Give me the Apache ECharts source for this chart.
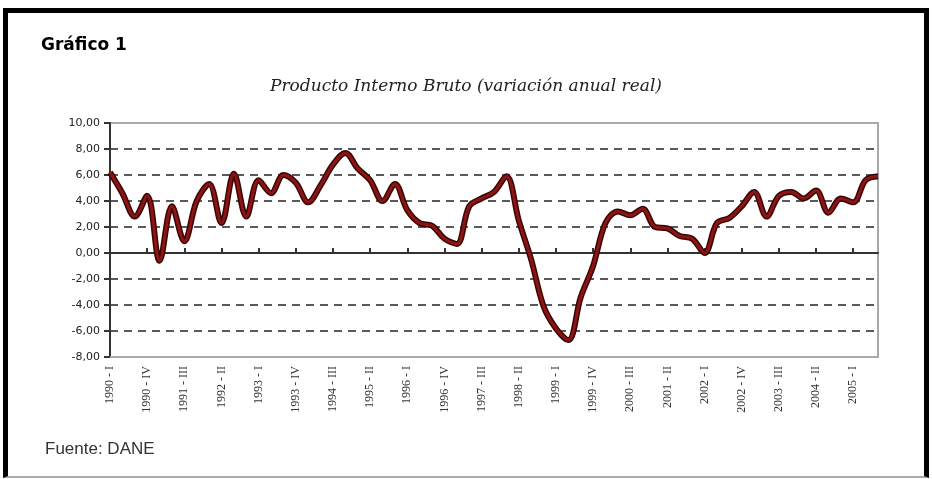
<!DOCTYPE html>
<html>
<head>
<meta charset="utf-8">
<script src="https://cdn.jsdelivr.net/npm/echarts@6/dist/echarts.min.js"></script>
<style>
  html, body { margin: 0; padding: 0; background: #fff; }
  #frame {
    position: absolute; left: 3px; top: 8px; width: 926px; height: 470px;
    box-sizing: border-box;
    border-left: 5px solid #000; border-top: 5px solid #000; border-right: 5px solid #000;
    border-bottom: 2px solid #aaa;
  }
  #chart { position: absolute; left: 0; top: 0; width: 932px; height: 479px; }
</style>
</head>
<body>
<div id="frame"></div>
<div id="chart"></div>
<script>
// trimestres 1990-I .. 2005-III
const years = ['1990','1991','1992','1993','1994','1995','1996','1997','1998','1999','2000','2001','2002','2003','2004','2005']
const quarters = ['I', 'II', 'III', 'IV']
const categories = []
years.forEach(y => quarters.forEach(q => categories.push(y + ' - ' + q)))
categories.length = 63

// PIB, variación anual real (%)
const pib = [
  6.2, 4.6, 2.8, 4.4, -0.6, 3.6, 0.9, 4.0, 5.3, 2.3,
  6.1, 2.8, 5.6, 4.6, 6.0, 5.4, 3.9, 5.2, 6.8, 7.7,
  6.5, 5.6, 4.0, 5.3, 3.3, 2.3, 2.1, 1.1, 0.7, 3.6,
  4.2, 4.7, 5.9, 2.5, -0.5, -4.1, -5.8, -6.7, -3.4, -1.0,
  2.3, 3.2, 2.9, 3.4, 2.0, 1.9, 1.3, 1.1, 0.0, 2.3,
  2.7, 3.6, 4.7, 2.8, 4.4, 4.7, 4.2, 4.8, 3.1, 4.2,
  3.9, 5.6, 5.9
]

const chart = echarts.init(document.getElementById('chart'))

const gridColors = ['transparent', '#5a5a5a', '#5a5a5a', '#5a5a5a', 'transparent',
  '#5a5a5a', '#5a5a5a', '#5a5a5a', '#5a5a5a', 'transparent']

chart.setOption({
  animation: false,
  backgroundColor: 'transparent',
  title: [
    {
      text: 'Gráfico 1',
      left: 36, top: 32,
      textStyle: { fontFamily: 'DejaVu Sans', fontWeight: 'bold', fontSize: 17, color: '#000' }
    },
    {
      text: 'Producto Interno Bruto (variación anual real)',
      left: 'center', top: 73,
      textStyle: { fontFamily: 'DejaVu Serif', fontStyle: 'italic', fontWeight: 'normal', fontSize: 17, color: '#222' }
    },
    {
      text: 'Fuente: DANE',
      left: 40, top: 436,
      textStyle: { fontFamily: 'Liberation Sans', fontWeight: 'normal', fontSize: 17, color: '#333' }
    }
  ],
  grid: {
    left: 110, right: 54, top: 123, bottom: 122,
    show: true, borderColor: '#aaa', borderWidth: 2, backgroundColor: '#fff'
  },
  xAxis: [
    {
      type: 'category',
      data: categories,
      boundaryGap: false,
      position: 'bottom',
      axisLine: { onZero: false, lineStyle: { color: '#aaa', width: 2 } },
      axisTick: { show: false },
      axisLabel: {
        interval: 2, rotate: 90, margin: 9,
        fontFamily: 'Liberation Serif', fontSize: 12, color: '#333'
      },
      splitLine: { show: false }
    },
    {
      type: 'category',
      data: categories,
      boundaryGap: false,
      position: 'top',
      axisLine: { onZero: true, lineStyle: { color: '#333', width: 2 } },
      axisTick: { show: true, interval: 2, length: 5, lineStyle: { color: '#333', width: 2 } },
      axisLabel: { show: false },
      splitLine: { show: false }
    }
  ],
  yAxis: {
    type: 'value',
    min: -8, max: 10, interval: 2,
    axisLine: { show: true, onZero: false, lineStyle: { color: '#333', width: 2 } },
    axisTick: { show: true, length: 6, lineStyle: { color: '#333', width: 2 } },
    axisLabel: {
      margin: 10,
      fontFamily: 'DejaVu Sans', fontSize: 11, color: '#222',
      formatter: v => v.toFixed(2).replace('.', ',')
    },
    splitLine: { show: true, lineStyle: { color: gridColors, type: [8, 6], width: 2 } }
  },
  series: [
    {
      type: 'line', data: pib, smooth: 0.35, showSymbol: false, xAxisIndex: 0,
      lineStyle: { color: '#3a0505', width: 6 }
    },
    {
      type: 'line', data: pib, smooth: 0.35, showSymbol: false, xAxisIndex: 0,
      lineStyle: { color: '#8c1414', width: 3 }
    }
  ]
})
</script>
</body>
</html>
